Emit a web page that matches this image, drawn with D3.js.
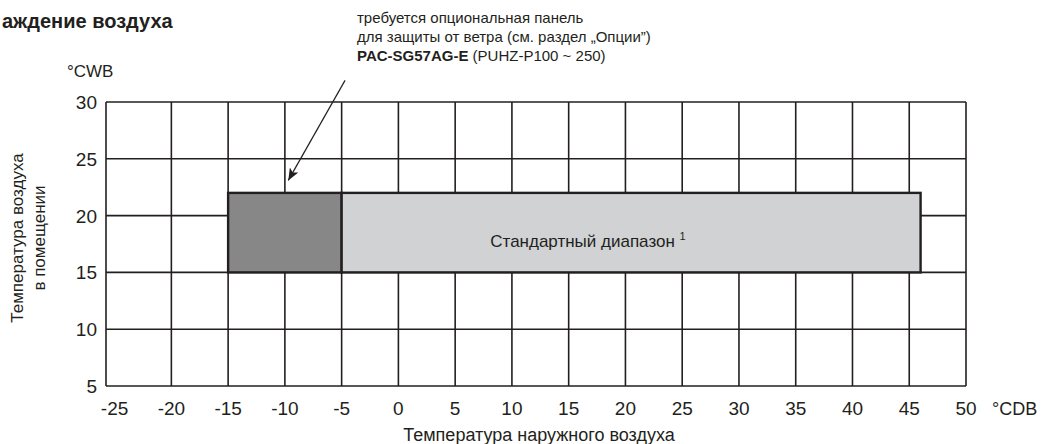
<!DOCTYPE html>
<html><head><meta charset="utf-8">
<script src="https://cdn.jsdelivr.net/npm/d3@7"></script>
<style>body{margin:0;background:#fff}text{font-family:"Liberation Sans",Arial,sans-serif;fill:#231f20}</style>
</head><body><svg id="c" width="1052" height="444"></svg>
<script>
const xTicks = [-25,-20,-15,-10,-5,0,5,10,15,20,25,30,35,40,45,50];
const yTicks = [5,10,15,20,25,30];
const ranges = [
  {name:"optional", x0:-15, x1:-5, y0:15, y1:22, fill:"#878787"},
  {name:"standard", x0:-5, x1:46, y0:15, y1:22, fill:"#d1d2d4"}
];
const arrowFrom = [-4.7, 31.9], arrowTo = [-9.7, 23.1];
const noteLines = ["требуется опциональная панель","для защиты от ветра (см. раздел „Опции”)"];

const svg = d3.select("#c");
const x = d3.scaleLinear().domain([-25,50]).range([114.6,966]);
const y = d3.scaleLinear().domain([5,30]).range([386,102]);
const ink = "#231f20";
const frameLeft = 106;

// grid
svg.append("g").selectAll("line").data(xTicks.slice(1)).join("line")
  .attr("x1",d=>x(d)).attr("x2",d=>x(d)).attr("y1",y(30)).attr("y2",y(5))
  .attr("stroke",ink).attr("stroke-width",1.6);
svg.append("line").attr("x1",frameLeft).attr("x2",frameLeft).attr("y1",y(30)).attr("y2",y(5))
  .attr("stroke",ink).attr("stroke-width",1.6);
svg.append("g").selectAll("line").data(yTicks).join("line")
  .attr("x1",frameLeft).attr("x2",x(50)).attr("y1",d=>y(d)).attr("y2",d=>y(d))
  .attr("stroke",ink).attr("stroke-width",1.6);

// ranges
svg.append("g").selectAll("rect").data(ranges).join("rect")
  .attr("x",d=>x(d.x0)).attr("y",d=>y(d.y1))
  .attr("width",d=>x(d.x1)-x(d.x0)).attr("height",d=>y(d.y0)-y(d.y1))
  .attr("fill",d=>d.fill).attr("stroke",ink).attr("stroke-width",2.4);

// tick labels
svg.append("g").selectAll("text").data(xTicks).join("text")
  .attr("x",d=>x(d)).attr("y",415).attr("text-anchor","middle")
  .attr("font-size",19).text(d=>d);
svg.append("g").selectAll("text").data(yTicks).join("text")
  .attr("x",97).attr("y",d=>y(d)+7).attr("text-anchor","end")
  .attr("font-size",19).text(d=>d);

svg.append("text").attr("x",67).attr("y",77).attr("font-size",17).text("°CWB");
svg.append("text").attr("x",992).attr("y",415).attr("font-size",18).text("°CDB");
svg.append("text").attr("x",539).attr("y",441).attr("text-anchor","middle").attr("font-size",18)
  .text("Температура наружного воздуха");
const yt = svg.append("text").attr("transform","translate(23,238) rotate(-90)")
  .attr("text-anchor","middle").attr("font-size",17);
yt.append("tspan").attr("x",0).attr("dy",0).text("Температура воздуха");
yt.append("tspan").attr("x",0).attr("dy",22).text("в помещении");

// title
svg.append("text").attr("x",2).attr("y",28).attr("font-size",20).attr("font-weight","bold")
  .text("аждение воздуха");

// note
const note = svg.append("g");
noteLines.forEach((t,i)=>note.append("text").attr("x",357).attr("y",23+i*19).attr("font-size",15).text(t));
const l3 = note.append("text").attr("x",357).attr("y",61).attr("font-size",15);
l3.append("tspan").attr("font-weight","bold").text("PAC-SG57AG-E");
l3.append("tspan").text(" (PUHZ-P100 ~ 250)");

// arrow
svg.append("defs").append("marker").attr("id","ah").attr("viewBox","0 0 12 10")
  .attr("refX",12).attr("refY",5).attr("markerWidth",12).attr("markerHeight",10)
  .attr("orient","auto").attr("markerUnits","userSpaceOnUse")
  .append("path").attr("d","M0,0 L12,5 L0,10 L3,5 Z").attr("fill",ink);
svg.append("line").attr("x1",x(arrowFrom[0])).attr("y1",y(arrowFrom[1]))
  .attr("x2",x(arrowTo[0])).attr("y2",y(arrowTo[1]))
  .attr("stroke",ink).attr("stroke-width",1.2).attr("marker-end","url(#ah)");

// range label
const rl = svg.append("text").attr("x",x(16.7)).attr("y",y(17.2)).attr("text-anchor","middle").attr("font-size",17);
rl.append("tspan").text("Стандартный диапазон ");
rl.append("tspan").attr("font-size",11).attr("dy",-7).text("1");
</script></body></html>
